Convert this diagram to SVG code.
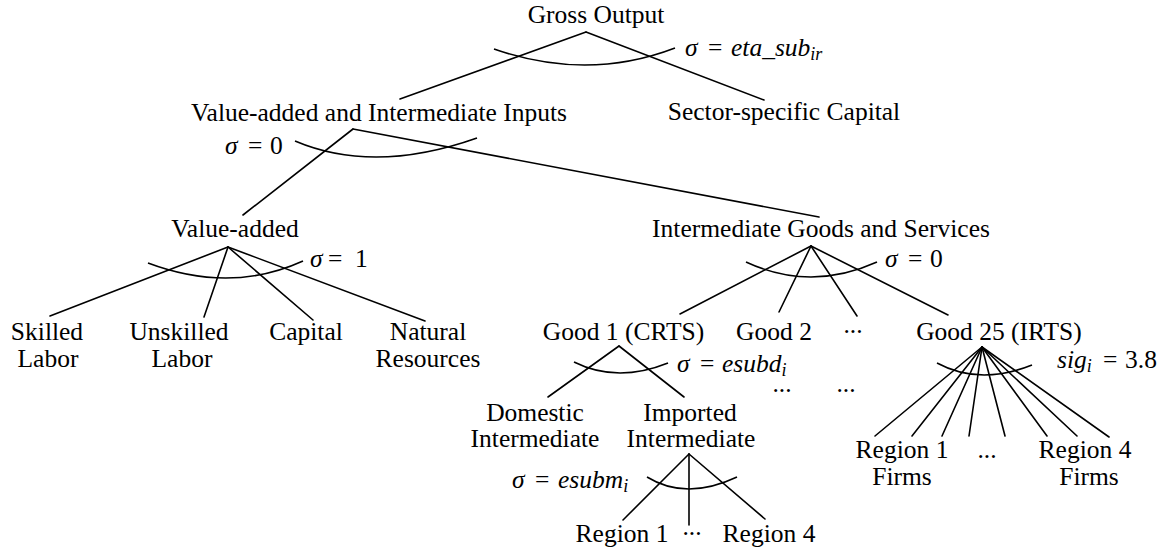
<svg xmlns="http://www.w3.org/2000/svg" width="1163" height="550" viewBox="0 0 1163 550">
<style>
text{font-family:"Liberation Serif","Times New Roman",serif;font-size:25.5px;fill:#000}
.n{text-anchor:middle}
.i{font-style:italic}
.s{font-size:18px;font-style:italic}
.c line{stroke:#000;stroke-width:1.6;stroke-linecap:round}
.a path{fill:none;stroke:#000;stroke-width:1.6}
</style>
<rect width="1163" height="550" fill="#fff"/>
<g id="connectors" class="c">
<line x1="586" y1="32" x2="400" y2="99"/>
<line x1="586" y1="32" x2="764" y2="100"/>
<line x1="353" y1="129" x2="243" y2="215"/>
<line x1="353" y1="129" x2="819" y2="217"/>
<line x1="228" y1="247" x2="50" y2="316"/>
<line x1="228" y1="247" x2="204" y2="317"/>
<line x1="228" y1="247" x2="313" y2="320"/>
<line x1="228" y1="247" x2="425" y2="321"/>
<line x1="811" y1="246" x2="680" y2="314"/>
<line x1="811" y1="246" x2="779" y2="312"/>
<line x1="811" y1="246" x2="857" y2="316"/>
<line x1="811" y1="246" x2="948" y2="315"/>
<line x1="619" y1="346" x2="548" y2="397"/>
<line x1="619" y1="346" x2="684" y2="397"/>
<line x1="689" y1="454" x2="623" y2="520"/>
<line x1="689" y1="454" x2="689" y2="525"/>
<line x1="689" y1="454" x2="765" y2="519"/>
<line x1="982" y1="347" x2="875" y2="436"/>
<line x1="982" y1="347" x2="912" y2="436"/>
<line x1="982" y1="347" x2="942" y2="436"/>
<line x1="982" y1="347" x2="969" y2="436"/>
<line x1="982" y1="347" x2="1005" y2="436"/>
<line x1="982" y1="347" x2="1047" y2="436"/>
<line x1="982" y1="347" x2="1077" y2="436"/>
<line x1="982" y1="347" x2="1109" y2="437"/>
</g>
<g id="arcs" class="a">
<path d="M494,49 Q587.5,81.5 675,48"/>
<path d="M295,141 Q374,174.5 477,138"/>
<path d="M148,263 Q230.5,294 303,261"/>
<path d="M746,262 Q810.5,292 877,262"/>
<path d="M574,362 Q617,383.5 668,363"/>
<path d="M647,477 Q686,501 737,477"/>
<path d="M937,363 Q979.5,386 1032,365"/>
</g>
<g id="n-gross"><text class="n" x="596" y="23">Gross Output</text></g>
<g id="n-vai"><text class="n" x="379" y="121">Value-added and Intermediate Inputs</text></g>
<g id="n-sector"><text class="n" x="784" y="120">Sector-specific Capital</text></g>
<g id="n-va"><text class="n" x="235" y="237">Value-added</text></g>
<g id="n-igs"><text class="n" x="821" y="237">Intermediate Goods and Services</text></g>
<g id="n-skilled"><text class="n" x="47" y="340">Skilled</text><text class="n" x="48" y="367">Labor</text></g>
<g id="n-unskilled"><text class="n" x="179" y="340">Unskilled</text><text class="n" x="182" y="367">Labor</text></g>
<g id="n-capital"><text class="n" x="306" y="340">Capital</text></g>
<g id="n-natural"><text class="n" x="428" y="340">Natural</text><text class="n" x="428" y="367">Resources</text></g>
<g id="n-good1"><text class="n" x="623.5" y="340">Good 1 (CRTS)</text></g>
<g id="n-good2"><text class="n" x="774" y="340">Good 2</text></g>
<g id="n-gooddots"><text class="n" x="853" y="333">...</text></g>
<g id="n-good25"><text class="n" x="999" y="340">Good 25 (IRTS)</text></g>
<g id="n-dots2"><text class="n" x="782" y="392">...</text><text class="n" x="846" y="392">...</text></g>
<g id="n-domestic"><text class="n" x="535" y="421">Domestic</text><text class="n" x="535" y="447">Intermediate</text></g>
<g id="n-imported"><text class="n" x="690" y="421">Imported</text><text class="n" x="691" y="447">Intermediate</text></g>
<g id="n-reg1"><text class="n" x="622" y="542">Region 1</text></g>
<g id="n-regdots"><text class="n" x="692" y="535">...</text></g>
<g id="n-reg4"><text class="n" x="769" y="542">Region 4</text></g>
<g id="n-firm1"><text class="n" x="902" y="458">Region 1</text><text class="n" x="902" y="485">Firms</text></g>
<g id="n-firmdots"><text class="n" x="987" y="458">...</text></g>
<g id="n-firm4"><text class="n" x="1085" y="458">Region 4</text><text class="n" x="1089" y="485">Firms</text></g>
<g id="labels">
<text x="685" y="56"><tspan class="i">σ</tspan><tspan x="708">=</tspan><tspan class="i" x="731">eta_sub</tspan><tspan class="s" dy="4">ir</tspan></text>
<text x="225" y="154"><tspan class="i">σ</tspan><tspan x="248">=</tspan><tspan x="270">0</tspan></text>
<text x="310" y="267"><tspan class="i">σ</tspan><tspan x="328">=</tspan><tspan x="355">1</tspan></text>
<text x="885" y="267"><tspan class="i">σ</tspan><tspan x="908">=</tspan><tspan x="930">0</tspan></text>
<text x="677" y="372"><tspan class="i">σ</tspan><tspan x="700">=</tspan><tspan class="i" x="722">esubd</tspan><tspan class="s" dy="4">i</tspan></text>
<text x="512" y="488"><tspan class="i">σ</tspan><tspan x="535">=</tspan><tspan class="i" x="558">esubm</tspan><tspan class="s" dy="4">i</tspan></text>
<text x="1057" y="368"><tspan class="i">sig</tspan><tspan class="s" dy="4">i</tspan><tspan x="1103" dy="-4">=</tspan><tspan x="1125">3.8</tspan></text>
</g>
</svg>
